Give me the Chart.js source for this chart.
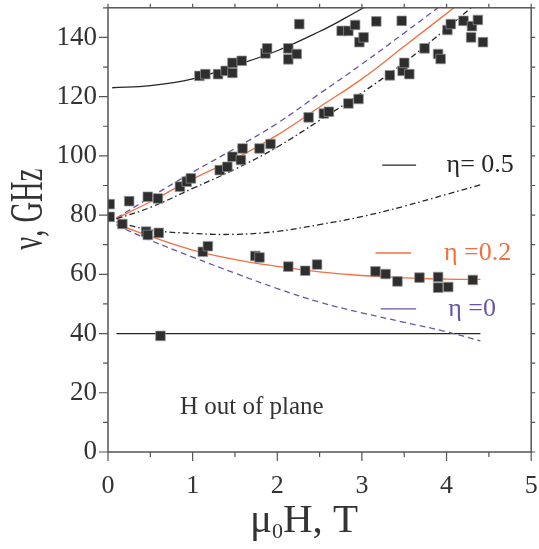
<!DOCTYPE html>
<html lang="en">
<head>
    <meta charset="UTF-8">
    <title>Resonance frequency vs field</title>
    <script src="https://cdn.jsdelivr.net/npm/chart.js"></script>
    <style>
        body {
            margin: 0;
            padding: 0;
            background: white;
            overflow: hidden;
        }
        canvas {
            display: block;
        }
    </style>
</head>
<body>
    <canvas id="grafico" width="539" height="549"></canvas>

    <script>
        // measured points (mu0H in T, frequency in GHz)
        const dataH = [1.08, 1.15, 1.30, 1.39, 1.47, 1.47, 1.58, 1.86, 1.88, 2.13, 2.13, 2.23, 2.26,
            2.76, 2.84, 2.92, 2.97, 3.02, 3.17, 3.47, 4.01, 4.05, 4.20, 4.30, 4.37, 4.29, 4.43,
            3.33, 3.48, 3.50, 3.56, 3.74, 3.90, 3.93, 2.37, 2.55, 2.61, 2.84, 2.96,
            0.02, 0.02, 0.25, 0.47, 0.59, 0.85, 0.93, 0.98, 1.32, 1.41, 1.47, 1.57, 1.59, 1.79, 1.92,
            0.17, 0.45, 0.47, 0.60, 1.12, 1.18, 1.74, 1.79, 2.13, 2.33, 2.47, 3.16, 3.28, 3.42,
            3.68, 3.90, 3.90, 4.02, 4.31, 0.62];
        const dataNu = [127, 127.6, 127.6, 128.7, 128, 131.4, 132.1, 134.6, 136.3, 136.3, 132.6, 134.4, 144.5,
            142.2, 142.2, 144.2, 138.4, 140, 145.4, 145.6, 142.5, 144.5, 145.6, 143.8, 145.9, 140, 138.4,
            127.2, 128.7, 131.4, 127.6, 136.3, 134.4, 132.7, 113, 114.3, 114.9, 117.7, 119.2,
            83.7, 79.4, 84.7, 86.2, 85.6, 89.6, 91.3, 92.4, 95.2, 96.3, 99.7, 98.6, 102.5, 102.5, 104,
            77, 74.4, 73.3, 74, 67.6, 69.5, 66.2, 65.7, 62.6, 61.2, 63.3, 61, 60.1, 57.6,
            58.9, 59.1, 55.5, 55.7, 58.1, 39.2];

        // eta = 0.5, solid upper branch
        const topH = [0.05, 0.5, 1.0, 1.5, 2.0, 2.5, 2.8, 3.08];
        const topNu = [123, 123.7, 126, 130.5, 135.5, 142, 146.5, 151];
        // eta = 0.5, dash-dot branches
        const e05UpH = [0.1, 0.5, 1.0, 1.5, 2.0, 2.5, 3.0, 3.5, 4.0, 4.31];
        const e05UpNu = [78.7, 82.6, 89, 95.5, 103, 112, 121.3, 131.5, 143, 150.5];
        const e05LowH = [0.1, 0.5, 1.0, 1.5, 2.0, 2.5, 3.0, 3.5, 4.0, 4.4];
        const e05LowNu = [77.7, 75, 73.8, 73.5, 74.5, 76.8, 79.5, 83, 87, 90.2];
        // eta = 0.2
        const e02UpH = [0.1, 0.5, 1.0, 1.5, 2.0, 2.5, 3.0, 3.5, 4.1];
        const e02UpNu = [78.9, 84.5, 92.2, 99, 107, 116.5, 126, 137, 150.3];
        const e02LowH = [0.1, 0.5, 1.0, 1.5, 2.0, 2.5, 3.0, 3.5, 4.0, 4.4];
        const e02LowNu = [77, 72.8, 68.2, 65, 62.7, 60.8, 59.6, 58.8, 58.4, 58.3];
        // eta = 0
        const e0UpH = [0.1, 0.5, 1.0, 1.5, 2.0, 2.5, 3.0, 3.5, 3.92];
        const e0UpNu = [79, 86, 94.5, 102.5, 111, 121, 131, 141.5, 150.5];
        const e0LowH = [0.1, 0.5, 1.0, 1.5, 2.0, 2.5, 3.0, 3.5, 4.0, 4.4];
        const e0LowNu = [76.6, 71.5, 65.8, 60.4, 55.2, 50.6, 47, 43.8, 40.6, 37.5];
        // flat mode
        const flatH = [0.1, 4.4];
        const flatNu = [40, 40];

        const xTicks = [0, 1, 2, 3, 4, 5];
        const yTicks = [0, 20, 40, 60, 80, 100, 120, 140];
        const legendLabels = ['η= 0.5', 'η =0.2', 'η =0'];
        const note = 'H out of plane';

        const preto = '#262626';
        const laranja = '#f26f42';
        const roxo = '#6b55a3';
        const fonte = '"Liberation Serif", "Times New Roman", serif';

        function pares(hs, nus) {
            return hs.map((h, i) => ({ x: h, y: nus[i] }));
        }

        function curva(hs, nus, cor, dash) {
            return {
                data: pares(hs, nus),
                showLine: true,
                borderColor: cor,
                borderWidth: 1.3,
                borderDash: dash,
                pointRadius: 0,
                tension: 0.4,
                order: 2
            };
        }

        // frame, ticks, axis titles, legend and note
        const moldura = {
            id: 'moldura',
            afterDraw(chart) {
                const ctx = chart.ctx;
                const a = chart.chartArea;
                const x = chart.scales.x;
                const y = chart.scales.y;
                ctx.save();
                ctx.strokeStyle = '#555';
                ctx.lineWidth = 1.5;
                ctx.strokeRect(a.left, a.top, a.right - a.left, a.bottom - a.top);
                ctx.lineWidth = 1.2;
                ctx.beginPath();
                for (let i = 0; i <= 10; i++) {
                    const px = x.getPixelForValue(i * 0.5);
                    const len = i % 2 === 0 ? 9 : 5;
                    ctx.moveTo(px, a.bottom); ctx.lineTo(px, a.bottom + len);
                    ctx.moveTo(px, a.top); ctx.lineTo(px, a.top - 4);
                }
                for (let i = 0; i <= 15; i++) {
                    const py = y.getPixelForValue(i * 10);
                    const len = i % 2 === 0 ? 9 : 5;
                    ctx.moveTo(a.left, py); ctx.lineTo(a.left - len, py);
                    ctx.moveTo(a.right, py); ctx.lineTo(a.right + 4, py);
                }
                ctx.stroke();

                // axis titles
                ctx.fillStyle = '#333';
                ctx.textAlign = 'left';
                ctx.textBaseline = 'alphabetic';
                ctx.font = '41px ' + fonte;
                const base = 532;
                let cx = 250;
                ctx.fillText('μ', cx, base);
                cx += ctx.measureText('μ').width;
                ctx.font = '22px ' + fonte;
                ctx.fillText('0', cx, base + 6);
                cx += ctx.measureText('0').width;
                ctx.font = '41px ' + fonte;
                ctx.fillText('H, T', cx, base);

                ctx.save();
                ctx.translate(42, y.getPixelForValue(82));
                ctx.rotate(-Math.PI / 2);
                ctx.scale(0.62, 1);
                ctx.textAlign = 'center';
                ctx.font = '46px ' + fonte;
                ctx.fillText('ν, GHz', 0, 0);
                ctx.restore();

                // legend
                const cores = [preto, laranja, roxo];
                const linhas = [[3.24, 3.64, 96.9, 4.0], [3.16, 3.58, 67.2, 3.97], [3.22, 3.64, 48.3, 4.02]];
                ctx.font = '26px ' + fonte;
                ctx.textBaseline = 'middle';
                ctx.textAlign = 'left';
                linhas.forEach((l, i) => {
                    const py = y.getPixelForValue(l[2]);
                    ctx.strokeStyle = cores[i];
                    ctx.lineWidth = 1.3;
                    ctx.beginPath();
                    ctx.moveTo(x.getPixelForValue(l[0]), py);
                    ctx.lineTo(x.getPixelForValue(l[1]), py);
                    ctx.stroke();
                    ctx.fillStyle = cores[i];
                    ctx.fillText(legendLabels[i], x.getPixelForValue(l[3]), py);
                });

                ctx.fillStyle = '#333';
                ctx.font = '25px ' + fonte;
                ctx.textBaseline = 'alphabetic';
                ctx.fillText(note, x.getPixelForValue(0.85), y.getPixelForValue(13));
                ctx.restore();
            }
        };

        function gerarGrafico() {
            const ctx = document.getElementById('grafico').getContext('2d');
            new Chart(ctx, {
                type: 'scatter',
                data: {
                    datasets: [
                        {
                            data: pares(dataH, dataNu),
                            pointStyle: 'rect',
                            pointRadius: 6.8,
                            backgroundColor: '#2e2e2e',
                            borderColor: 'rgba(150,150,150,0.7)',
                            borderWidth: 1,
                            order: 1
                        },
                        curva(topH, topNu, preto, []),
                        curva(e05UpH, e05UpNu, preto, [6, 3, 1.5, 3]),
                        curva(e05LowH, e05LowNu, preto, [6, 3, 1.5, 3]),
                        curva(e02UpH, e02UpNu, laranja, []),
                        curva(e02LowH, e02LowNu, laranja, []),
                        curva(e0UpH, e0UpNu, roxo, [6, 4]),
                        curva(e0LowH, e0LowNu, roxo, [6, 4]),
                        curva(flatH, flatNu, preto, [])
                    ]
                },
                options: {
                    responsive: false,
                    animation: false,
                    layout: { padding: { top: 6, right: 5, left: 0, bottom: 0 } },
                    plugins: {
                        legend: { display: false },
                        tooltip: { enabled: false }
                    },
                    scales: {
                        x: {
                            type: 'linear',
                            min: 0,
                            max: 5,
                            grid: { display: false, drawTicks: false },
                            border: { display: false },
                            ticks: {
                                stepSize: 1,
                                padding: 19,
                                color: '#333',
                                font: { family: 'Liberation Serif', size: 26 },
                                callback: v => xTicks.includes(v) ? String(v) : ''
                            },
                            afterFit: s => { s.height = 97; s.paddingLeft = 0; s.paddingRight = 0; }
                        },
                        y: {
                            type: 'linear',
                            min: 0,
                            max: 150,
                            grid: { display: false, drawTicks: false },
                            border: { display: false },
                            ticks: {
                                stepSize: 20,
                                includeBounds: false,
                                padding: 11,
                                color: '#333',
                                font: { family: 'Liberation Serif', size: 27 },
                                callback: v => yTicks.includes(v) ? String(v) : ''
                            },
                            afterFit: s => { s.width = 108; s.paddingTop = 0; s.paddingBottom = 0; }
                        }
                    }
                },
                plugins: [moldura]
            });
        }

        document.addEventListener('DOMContentLoaded', gerarGrafico);
    </script>
</body>
</html>
